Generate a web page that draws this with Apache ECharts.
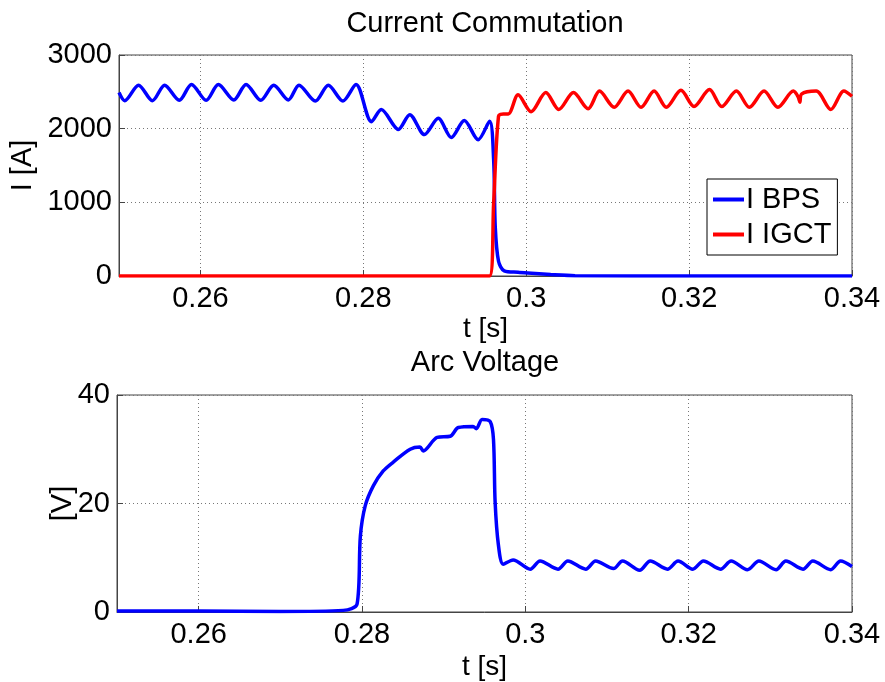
<!DOCTYPE html>
<html>
<head>
<meta charset="utf-8">
<script src="https://cdn.jsdelivr.net/npm/echarts@6/dist/echarts.min.js"></script>
<style>
  html, body { margin: 0; padding: 0; background: #fff; }
  #main { width: 885px; height: 682px; }
</style>
</head>
<body>
<div id="main"></div>
<script>
// I BPS (blue)
var tBps = [0.2500, 0.2507, 0.2524, 0.2541, 0.2556, 0.2574, 0.2589, 0.2607, 0.2622, 0.2641,
            0.2656, 0.2674, 0.2690, 0.2708, 0.2721, 0.2741, 0.2757, 0.2775, 0.2791, 0.2810,
            0.2822, 0.2843, 0.2857, 0.2875, 0.2892, 0.2908, 0.2924, 0.2941, 0.2955, 0.2960,
            0.2962, 0.2966, 0.2973, 0.2990, 0.3002, 0.3030, 0.3060, 0.3200, 0.3400];
var iBps = [2490, 2380, 2590, 2380, 2590, 2385, 2600, 2385, 2600, 2390,
            2600, 2385, 2590, 2390, 2590, 2375, 2590, 2375, 2600, 2095,
            2260, 1990, 2190, 1920, 2140, 1880, 2110, 1850, 2100, 1575,
            660, 200, 70, 50, 40, 20, 5, 0, 0];

// I IGCT (red)
var tIgct = [0.2500, 0.2955, 0.2960, 0.2966, 0.2972, 0.2978, 0.2990, 0.3006, 0.3024, 0.3040,
             0.3058, 0.3076, 0.3090, 0.3108, 0.3125, 0.3141, 0.3157, 0.3172, 0.3190, 0.3206,
             0.3225, 0.3240, 0.3258, 0.3274, 0.3292, 0.3309, 0.3328, 0.3334, 0.3336, 0.3338,
             0.3356, 0.3374, 0.3390, 0.3400];
var iIgct = [0, 0, 990, 2170, 2200, 2200, 2460, 2230, 2490, 2260,
             2490, 2270, 2510, 2290, 2510, 2290, 2510, 2290, 2520, 2300,
             2530, 2300, 2510, 2290, 2510, 2290, 2510, 2430, 2360, 2470,
             2510, 2260, 2510, 2440];

// Arc voltage
var tArc = [0.2500, 0.2600, 0.2700, 0.2777, 0.2794, 0.2798, 0.2804, 0.2814, 0.2826, 0.2838,
            0.2859, 0.2871, 0.2875, 0.2892, 0.2908, 0.2918, 0.2936, 0.2940, 0.2947, 0.2957,
            0.2961, 0.2963, 0.2967, 0.2973, 0.2985, 0.3006, 0.3018, 0.3040, 0.3052, 0.3074,
            0.3086, 0.3108, 0.3119, 0.3140, 0.3153, 0.3174, 0.3187, 0.3205, 0.3218, 0.3239,
            0.3252, 0.3272, 0.3286, 0.3307, 0.3319, 0.3340, 0.3352, 0.3374, 0.3386, 0.3400];
var vArc = [0.2, 0.2, 0.1, 0.3, 1.5, 14, 19.6, 23.3, 26, 27.6,
            30, 30.4, 29.7, 32.2, 32.4, 34, 34.2, 33.8, 35.5, 35.1,
            31.8, 20.3, 12.4, 8.8, 9.6, 7.9, 9.4, 7.9, 9.4, 7.9,
            9.4, 8.0, 9.4, 7.7, 9.4, 7.9, 9.4, 7.9, 9.4, 7.9,
            9.4, 7.8, 9.4, 7.8, 9.4, 7.9, 9.4, 7.8, 9.4, 8.4];

var xTicks = [0.26, 0.28, 0.3, 0.32, 0.34];

function zip(a, b) {
    return a.map(function (v, i) { return [v, b[i]]; });
}

var font = 'Liberation Sans, Arial, sans-serif';
var gridLine = { show: true, lineStyle: { color: '#777', type: [1, 3], width: 1 } };

function xAxisFor(idx, gap) {
    return {
        gridIndex: idx,
        type: 'value',
        min: 0.25,
        max: 0.34,
        splitNumber: 5,
        name: 't [s]',
        nameLocation: 'middle',
        nameGap: gap,
        nameMoveOverlap: false,
        nameTextStyle: { color: '#000', fontSize: 28, fontFamily: font },
        axisLine: { show: true, lineStyle: { color: '#444', width: 1 } },
        axisTick: { show: true, inside: true, length: 6, lineStyle: { color: '#444' } },
        axisLabel: {
            color: '#000', fontSize: 29, fontFamily: font, margin: 8,
            showMinLabel: false,
            formatter: function (v) {
                for (var k = 0; k < xTicks.length; k++) {
                    if (Math.abs(v - xTicks[k]) < 1e-9) return String(xTicks[k]);
                }
                return '';
            }
        },
        splitLine: gridLine
    };
}

function yAxisFor(idx, max, step, name, gap) {
    return {
        gridIndex: idx,
        type: 'value',
        min: 0,
        max: max,
        interval: step,
        name: name,
        nameLocation: 'middle',
        nameGap: gap,
        nameMoveOverlap: false,
        nameTextStyle: { color: '#000', fontSize: 29, fontFamily: font },
        axisLine: { show: true, lineStyle: { color: '#444', width: 1 } },
        axisTick: { show: true, inside: true, length: 6, lineStyle: { color: '#444' } },
        axisLabel: {
            color: '#000', fontSize: 29, fontFamily: font, margin: 7,
            formatter: function (v) { return String(v); }
        },
        splitLine: gridLine
    };
}

var chart = echarts.init(document.getElementById('main'), null, { renderer: 'canvas' });

var option = {
    backgroundColor: '#fff',
    animation: false,
    title: [
        { text: 'Current Commutation', left: 485, top: 9, textAlign: 'center', padding: 0,
          textStyle: { color: '#000', fontSize: 29, fontWeight: 'normal', fontFamily: font } },
        { text: 'Arc Voltage', left: 485, top: 348, textAlign: 'center', padding: 0,
          textStyle: { color: '#000', fontSize: 29, fontWeight: 'normal', fontFamily: font } }
    ],
    legend: {
        data: ['I BPS', 'I IGCT'],
        orient: 'vertical',
        left: 707,
        top: 179,
        icon: 'rect',
        itemWidth: 31,
        itemHeight: 4,
        itemGap: 6,
        padding: [6, 6, 6, 6],
        borderColor: '#000',
        borderWidth: 1,
        backgroundColor: '#fff',
        textStyle: { color: '#000', fontSize: 29, fontFamily: font, padding: [0, 0, 0, -3] }
    },
    grid: [
        { left: 117, top: 55, width: 735, height: 221, show: true, borderColor: '#444', borderWidth: 1, backgroundColor: 'transparent' },
        { left: 117, top: 395, width: 735, height: 220, show: true, borderColor: '#444', borderWidth: 1, backgroundColor: 'transparent' }
    ],
    xAxis: [xAxisFor(0, 39), xAxisFor(1, 41)],
    yAxis: [
        yAxisFor(0, 3000, 1000, 'I [A]', 82),
        yAxisFor(1, 40, 20, '[V]', 40)
    ],
    series: [
        {
            name: 'I BPS', type: 'line', xAxisIndex: 0, yAxisIndex: 0,
            data: zip(tBps, iBps), showSymbol: false, smooth: 0.3,
            itemStyle: { color: '#0000ff' },
            lineStyle: { color: '#0000ff', width: 3.5 }
        },
        {
            name: 'I IGCT', type: 'line', xAxisIndex: 0, yAxisIndex: 0,
            data: zip(tIgct, iIgct), showSymbol: false, smooth: 0.3,
            itemStyle: { color: '#ff0000' },
            lineStyle: { color: '#ff0000', width: 3.5 }
        },
        {
            name: 'Arc Voltage', type: 'line', xAxisIndex: 1, yAxisIndex: 1,
            data: zip(tArc, vArc), showSymbol: false, smooth: 0.3,
            itemStyle: { color: '#0000ff' },
            lineStyle: { color: '#0000ff', width: 3.5 }
        }
    ]
};

option && chart.setOption(option);
</script>
</body>
</html>
